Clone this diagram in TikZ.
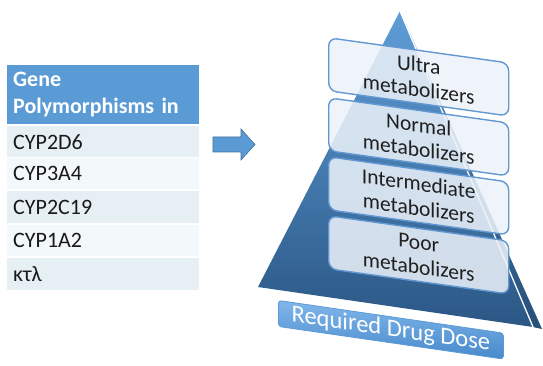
\documentclass[tikz,border=0pt]{standalone}
\usepackage{fontspec}
\setmainfont{Carlito}
\definecolor{hdr}{RGB}{91,155,213}
\definecolor{rowA}{RGB}{230,240,244}
\definecolor{rowB}{RGB}{243,248,250}
\definecolor{pyrtop}{RGB}{95,158,216}
\definecolor{pyrbot}{RGB}{42,86,132}
\definecolor{boxfill}{RGB}{236,242,249}
\definecolor{boxline}{RGB}{98,152,210}
\definecolor{dosetop}{RGB}{128,182,234}
\definecolor{dosebot}{RGB}{72,138,204}
\definecolor{arrowline}{RGB}{65,113,156}
\tikzset{
  cell/.style={anchor=north west, inner xsep=6pt, inner ysep=0pt, text width=180pt,
    align=left, minimum width=192pt, font=\fontsize{22}{27}\selectfont, text=black!90},
  hdrcell/.style={cell, fill=hdr, text=white, minimum height=59pt,
    font=\fontsize{22}{27}\selectfont\bfseries},
  mbox/.style={anchor=north west, draw=boxline, line width=1.4pt, rounded corners=8pt,
    fill=boxfill, fill opacity=0.86, text opacity=1, minimum width=180pt, minimum height=53pt,
    align=center, inner sep=0pt, font=\fontsize{21.5}{24.5}\selectfont, text=black!88, transform shape},
  dosebox/.style={anchor=north west, draw=hdr, line width=0.8pt, rounded corners=3pt,
    top color=dosetop, bottom color=dosebot, minimum width=225pt, minimum height=26pt,
    inner sep=0pt, text=white, font=\fontsize{24.5}{26}\selectfont, transform shape},
}
\begin{document}
\begin{tikzpicture}[x=1pt,y=-1pt]
\useasboundingbox (0,0) rectangle (543,366);
% table
\node[hdrcell] (hdr) at (7,65) {Gene\\Polymorphisms in};
\node[cell, fill=rowA, minimum height=31pt] (r1) at (7,126) {CYP2D6};
\node[cell, fill=rowB, minimum height=31pt] (r2) at (7,158) {CYP3A4};
\node[cell, fill=rowA, minimum height=32pt] (r3) at (7,191) {CYP2C19};
\node[cell, fill=rowB, minimum height=31pt] (r4) at (7,225) {CYP1A2};
\node[cell, fill=rowA, minimum height=32pt] (r5) at (7,258) {κτλ};
% arrow
\draw[fill=hdr, draw=arrowline, line width=0.6pt]
  (213,137) -- (241,137) -- (241,129) -- (255,144.5) -- (241,160) -- (241,152) -- (213,152) -- cycle;
% pyramid
\coordinate (apex) at (400,11);
\coordinate (lb) at (258,287);
\coordinate (fb) at (533,327);
\coordinate (rb) at (542,329);
\shade[top color=pyrtop, bottom color=pyrbot] (apex) -- (lb) -- (fb) -- (rb) -- cycle;
\fill[black, opacity=0.08] (apex) -- (fb) -- (rb) -- cycle;
\draw[white, line width=1.3pt] (apex) -- (fb);
% boxes
\begin{scope}[shift={(328,0)}, yslant=-0.14]
\node[mbox] (ultra) at (0,37) {Ultra\\metabolizers};
\node[mbox] (normal) at (0,97) {Normal\\metabolizers};
\node[mbox] (inter) at (0,156) {Intermediate\\metabolizers};
\node[mbox] (poor) at (0,215) {Poor\\metabolizers};
\end{scope}
\begin{scope}[shift={(278,0)}, yslant=-0.145]
\node[dosebox] (dose) at (0,300) {Required Drug Dose};
\end{scope}
\end{tikzpicture}
\end{document}
